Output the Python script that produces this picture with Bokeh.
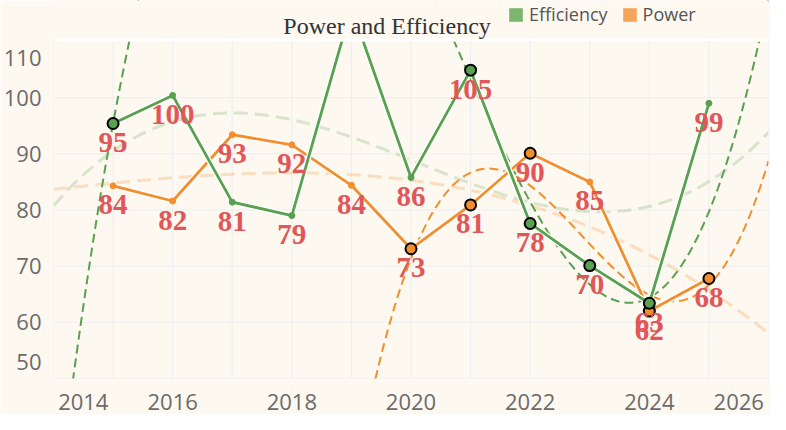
import numpy as np
from bokeh.plotting import figure
from bokeh.models import FixedTicker, Legend, LegendItem, Label, ColumnDataSource, BoxAnnotation
from bokeh.core.properties import value
from bokeh.embed import file_html
from bokeh.resources import INLINE

# ---------------- data ----------------
years = [2015, 2016, 2017, 2018, 2019, 2020, 2021, 2022, 2023, 2024, 2025]
efficiency = [95.4, 100.4, 81.4, 79.0, 116.0, 85.8, 104.9, 77.6, 70.1, 63.4, 99.0]
power = [84.3, 81.6, 93.4, 91.6, 84.4, 73.1, 80.9, 90.1, 85.0, 62.0, 67.8]
eff_highlight = [True, False, False, False, False, False, True, True, True, True, False]
pow_highlight = [False, False, False, False, False, True, True, True, False, True, True]

x_tick_labels = ["2014", "2016", "2018", "2020", "2022", "2024", "2026"]
y_tick_labels = ["50", "60", "70", "80", "90", "100", "110"]
grid_years = list(range(2014, 2027))
grid_values = [50, 60, 70, 80, 90, 100, 110]

title_text = "Power and Efficiency"
series_names = ["Efficiency", "Power"]

# ---------------- style ----------------
BG = "#fdf8f0"
GREEN = "#59a14f"
ORANGE = "#f28e2b"
GREEN_LEG = "#7cb56e"
ORANGE_LEG = "#f5a55a"
LABEL_RED = "#e15759"
GRID = "#ebeef1"
W, H = 770, 414
BL, BR, BT, BB = 50, 2, 41, 36          # BT = header band (inside the frame)
X0, X1, Y0, Y1 = 2014, 2026, 50, 110
ppu = (H - BT - BB) / (Y1 - Y0)          # px per y unit
ppx = (W - BL - BR) / (X1 - X0)          # px per year
Y_TOP = Y1 + BT / ppu

p = figure(width=W, height=H, x_range=(X0, X1), y_range=(Y0, Y_TOP),
           output_backend="svg", toolbar_location=None,
           min_border_left=BL, min_border_right=BR, min_border_top=0, min_border_bottom=BB,
           background_fill_color=BG, border_fill_color=BG, outline_line_color=None)
p.grid.visible = False

# grid lines limited to the plotting band
p.segment(x0=grid_years, y0=[Y0] * len(grid_years), x1=grid_years, y1=[Y1] * len(grid_years),
          line_color=GRID, line_width=1)
p.segment(x0=[X0] * len(grid_values), y0=grid_values, x1=[X1] * len(grid_values), y1=grid_values,
          line_color=GRID, line_width=1)

x_tick_pos = [2014.5, 2016, 2018, 2020, 2022, 2024, 2025.5]
y_tick_pos = [53, 60, 70, 80, 90, 100, 107]
p.xaxis.ticker = FixedTicker(ticks=x_tick_pos)
p.xaxis.major_label_overrides = {k: v for k, v in zip(x_tick_pos, x_tick_labels)}
p.yaxis.ticker = FixedTicker(ticks=y_tick_pos)
p.yaxis.major_label_overrides = {k: v for k, v in zip(y_tick_pos, y_tick_labels)}
for ax in (p.xaxis, p.yaxis):
    ax.axis_line_color = None
    ax.major_tick_line_color = None
    ax.minor_tick_line_color = None
    ax.major_label_text_font = "Open Sans"
    ax.major_label_text_font_size = "22px"
    ax.major_label_text_color = "#6b6b6b"
p.xaxis.major_label_standoff = 9
p.yaxis.major_label_standoff = 6

xs = np.linspace(X0, X1, 241)
yrs = np.array(years, dtype=float)


def cubic(xv, yv):
    xv = np.asarray(xv, dtype=float)
    c = np.polyfit(xv - 2020, np.asarray(yv, dtype=float), 3)
    return np.polyval(c, xs - 2020)


eh = np.array(eff_highlight)
ph = np.array(pow_highlight)
eff = np.array(efficiency)
pw = np.array(power)

# pale overall trends
p.line(xs, cubic(yrs, eff), color=GREEN, line_alpha=0.22, line_width=3, line_dash="14 7")
p.line(xs, cubic(yrs, pw), color=ORANGE, line_alpha=0.25, line_width=3, line_dash="14 7")
# trends of highlighted points
p.line(xs, cubic(yrs[eh], eff[eh]), color=GREEN, line_width=2, line_dash="9 5")
p.line(xs, cubic(yrs[ph], pw[ph]), color=ORANGE, line_width=2, line_dash="9 5")

for vals, col, hl in ((power, ORANGE, ph), (efficiency, GREEN, eh)):
    v = np.array(vals)
    p.line(years, vals, color="white", line_width=5.5)
    p.line(years, vals, color=col, line_width=2.8)
    p.scatter(yrs[~hl], v[~hl], size=6, color=col)
    p.scatter(yrs[hl], v[hl], size=11, fill_color=col, line_color="black", line_width=2)

for vals in (power, efficiency):
    src = ColumnDataSource(dict(x=years, y=vals, t=[str(int(round(v))) for v in vals]))
    p.text(x="x", y="y", text="t", source=src, text_font=value("Liberation Serif"),
           text_font_style="bold", text_font_size="29px", text_color=LABEL_RED,
           text_align="center", text_baseline="middle", y_offset=19)

# header band: cover overflow, white separator, title, legend
p.add_layout(BoxAnnotation(bottom=Y1, fill_color=BG, fill_alpha=1, line_color=None))
p.add_layout(BoxAnnotation(bottom=Y1, top=Y1 + 3 / ppu, fill_color="white", fill_alpha=1,
                           line_color=None))
p.add_layout(Label(x=X0 + (W / 2 - BL) / ppx, y=Y_TOP - 25 / ppu, text=title_text,
                   text_align="center", text_baseline="alphabetic",
                   text_font="Liberation Serif", text_font_size="24px", text_color="#333333"))

rg = p.quad(left=[1990], right=[1991], top=[0], bottom=[-1], fill_color=GREEN_LEG, line_color=None)
ro = p.quad(left=[1990], right=[1991], top=[0], bottom=[-1], fill_color=ORANGE_LEG, line_color=None)
leg = Legend(items=[LegendItem(label=series_names[0], renderers=[rg]),
                    LegendItem(label=series_names[1], renderers=[ro])],
             orientation="horizontal", location=(504 - BL, H - BB - 26),
             glyph_width=17, glyph_height=17, label_height=17, label_standoff=5,
             spacing=13, padding=0, margin=0,
             label_text_font="Open Sans", label_text_font_size="18px",
             label_text_color="#555555",
             background_fill_alpha=0, border_line_color=None)
p.add_layout(leg)

open("out.html", "w").write(file_html(p, INLINE))
